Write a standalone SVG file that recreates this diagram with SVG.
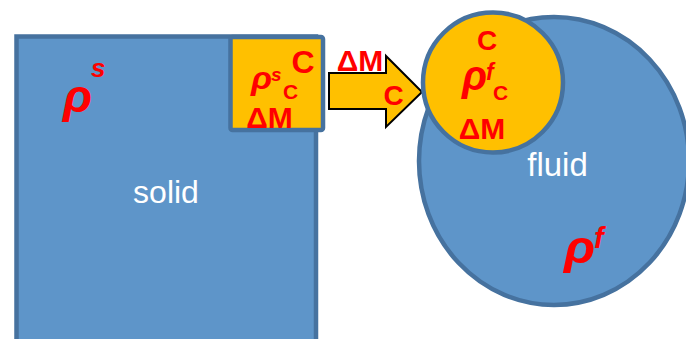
<svg xmlns="http://www.w3.org/2000/svg" width="686" height="339" viewBox="0 0 686 339">
<style>
.blue{fill:#5e95c9;stroke:#46729f;stroke-width:4.5}
.yel{fill:#ffc000;stroke:#46729f;stroke-width:4.5}
.arrow{fill:#ffc000;stroke:#000;stroke-width:2;stroke-linejoin:miter}
.r{font-family:"Liberation Sans",Arial,sans-serif;font-weight:bold;fill:#ff0000}
.i{font-style:italic}
.w{font-family:"Liberation Sans",Arial,sans-serif;fill:#ffffff}
</style>
<rect width="686" height="339" fill="#ffffff"/>
<g id="solid">
<rect class="blue" x="16.5" y="36.5" width="299.5" height="330"/>
<text class="w" x="166" y="203" font-size="32" text-anchor="middle">solid</text>
<text class="r i" x="63" y="112" font-size="46" textLength="29" lengthAdjust="spacingAndGlyphs">ρ</text>
<text class="r i" x="91" y="77" font-size="26">s</text>
</g>
<g id="solid-cell">
<rect class="yel" x="230.5" y="37" width="92.5" height="93" rx="2"/>
<text class="r" x="303" y="73" font-size="32" text-anchor="middle">C</text>
<text class="r i" x="251" y="89" font-size="32" textLength="21" lengthAdjust="spacingAndGlyphs">ρ</text>
<text class="r i" x="271" y="81" font-size="19">s</text>
<text class="r" x="283" y="99" font-size="21">C</text>
<text class="r" x="269.5" y="128" font-size="30" text-anchor="middle">ΔM</text>
</g>
<g id="connectors">
<polygon class="arrow" points="329,73 386,73 386,56 422,92 386,127 386,109 329,109"/>
<text class="r" x="360" y="71" font-size="30" text-anchor="middle">ΔM</text>
<text class="r" x="393.5" y="105" font-size="28" text-anchor="middle">C</text>
</g>
<g id="fluid">
<ellipse class="blue" cx="554" cy="161" rx="135" ry="144"/>
<text class="w" x="557.5" y="176" font-size="33" text-anchor="middle">fluid</text>
<text class="r i" x="564" y="263" font-size="47" textLength="31" lengthAdjust="spacingAndGlyphs">ρ</text>
<text class="r i" x="594" y="248" font-size="29">f</text>
</g>
<g id="fluid-cell">
<circle class="yel" cx="493" cy="82.5" r="70"/>
<text class="r" x="487" y="50" font-size="28" text-anchor="middle">C</text>
<text class="r i" x="462" y="90" font-size="42" textLength="25" lengthAdjust="spacingAndGlyphs">ρ</text>
<text class="r i" x="486" y="80" font-size="23">f</text>
<text class="r" x="493" y="100" font-size="21">C</text>
<text class="r" x="482" y="139" font-size="30" text-anchor="middle">ΔM</text>
</g>
</svg>
